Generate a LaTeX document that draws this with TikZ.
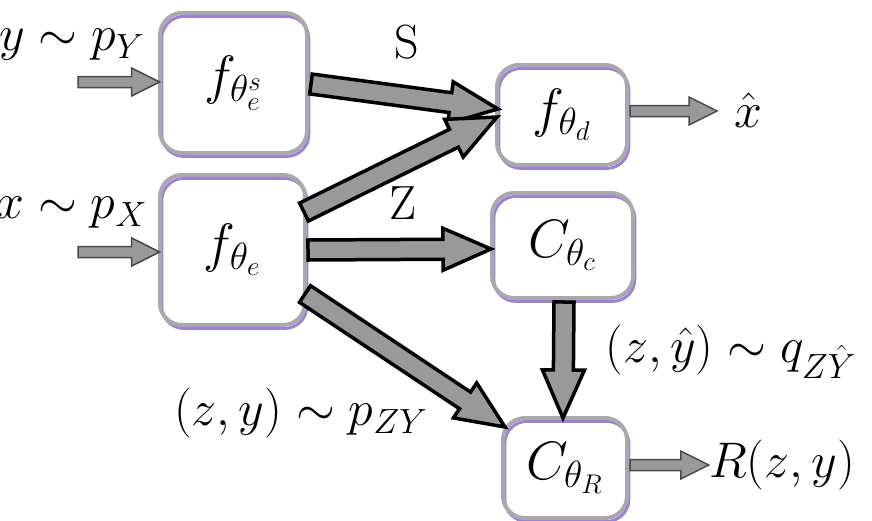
\RequirePackage{fix-cm}
\documentclass[tikz,border=0pt]{standalone}
\usepackage{amsmath,amssymb}
\usepackage{tikz}
\usetikzlibrary{calc}
\definecolor{boxgray}{HTML}{A9A9A9}
\definecolor{glow}{HTML}{9C82D6}
\definecolor{arrowfill}{HTML}{999999}
\definecolor{arrowedge}{HTML}{4A4A4A}

\begin{document}
\begin{tikzpicture}[x=0.5pt, y=-0.5pt,
        funcBox/.style={rectangle, rounded corners=11pt, fill=white, inner sep=0pt, font=\fontsize{27}{30}\selectfont,
            postaction={draw=glow, line width=1.5pt, transform canvas={xshift=0.9pt, yshift=-1.7pt}},
            postaction={draw=boxgray, line width=2pt}},
        mathLabel/.style={inner sep=0pt, font=\fontsize{25}{30}\selectfont},
        wordLabel/.style={inner sep=0pt, font=\fontsize{24}{28}\selectfont},
        blockArrow/.style n args={3}{to path={
            ($(\tikztostart)!#1!90:(\tikztotarget)$)
            -- ($(\tikztotarget)!#3!(\tikztostart)!#1!90:(\tikztotarget)$)
            -- ($(\tikztotarget)!#3!(\tikztostart)!#2!90:(\tikztotarget)$)
            -- (\tikztotarget)
            -- ($(\tikztotarget)!#3!(\tikztostart)!#2!-90:(\tikztotarget)$)
            -- ($(\tikztotarget)!#3!(\tikztostart)!#1!-90:(\tikztotarget)$)
            -- ($(\tikztostart)!#1!-90:(\tikztotarget)$) -- cycle}},
        fatArrow/.style={draw=black, fill=arrowfill, line width=1.75pt, line join=miter, blockArrow={5pt}{10.5pt}{24pt}},
        thinArrow/.style={draw=arrowedge, fill=arrowfill, line width=0.75pt, blockArrow={2.75pt}{7pt}{14pt}}
    ]
        \useasboundingbox (0,0) rectangle (872,520);

        % Encoders
        \node[funcBox, minimum width=73.5pt, minimum height=70pt] (fes) at (233.5,83) {$f_{\theta_e^s}$};
        \node[funcBox, minimum width=72.5pt, minimum height=75pt] (fe) at (232.5,250) {$f_{\theta_e}$};

        % Decoder and classifiers
        \node[funcBox, minimum width=65pt, minimum height=50pt] (fd) at (562,115) {$f_{\theta_d}$};
        \node[funcBox, minimum width=70.5pt, minimum height=52.5pt] (cc) at (562.5,245.5) {$C_{\theta_c}$};
        \node[funcBox, minimum width=62pt, minimum height=50pt] (cr) at (565,468) {$C_{\theta_R}$};

        % Inputs
        \node[mathLabel] (yIn) at (72,45) {$y\sim p_Y$};
        \node[mathLabel] (xIn) at (72,213) {$x\sim p_X$};
        \coordinate (yStart) at (78,82);
        \coordinate (xStart) at (78,252);
        \draw[thinArrow] (yStart) to (yStart -| fes.west);
        \draw[thinArrow] (xStart) to (xStart -| fe.west);

        % Outputs
        \node[mathLabel] (xhat) at (748,110) {$\hat{x}$};
        \node[mathLabel] (rOut) at (782,465) {$R(z,y)$};
        \coordinate (xhatTip) at (717,111);
        \coordinate (dOut) at (630,111);
        \coordinate (rStart) at (630,465);
        \draw[thinArrow] (dOut) to (xhatTip);
        \draw[thinArrow] (rStart) to (rOut.west);

        % Latent codes
        \coordinate (sOut) at (311,84);
        \coordinate (sIn) at (498,109);
        \coordinate (zUp) at (304,212);
        \coordinate (zIn) at (497,117);
        \coordinate (zMid) at (308,250);
        \coordinate (cIn) at (491,249);
        \coordinate (zLow) at (305,294);
        \coordinate (rIn) at (505,427);
        \draw[fatArrow] (sOut) to (sIn);
        \draw[fatArrow] (zUp) to (zIn);
        \draw[fatArrow] (zMid) to (cIn);
        \draw[fatArrow] (zLow) to (rIn);
        \coordinate (cDown) at (564,302);
        \coordinate (rTop) at (563,418);
        \draw[fatArrow] (cDown) to (rTop);

        \node[wordLabel] (sLab) at (407,42) {S};
        \node[wordLabel] (zLab) at (403,203) {Z};
        \node[mathLabel] (pLab) at (301,413) {$(z,y)\sim p_{ZY}$};
        \node[mathLabel] (qLab) at (731,352) {$(z,\hat{y})\sim q_{Z\hat{Y}}$};
    \end{tikzpicture}
\end{document}
